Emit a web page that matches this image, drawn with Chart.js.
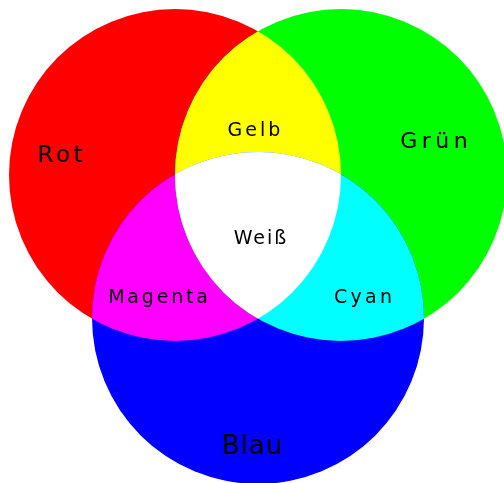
<!DOCTYPE html>
<html>
<head>
<meta charset="utf-8">
<script src="https://cdn.jsdelivr.net/npm/chart.js@4/dist/chart.umd.min.js"></script>
<style>
  html, body { margin: 0; padding: 0; background: #fff; }
  #wrap { width: 504px; height: 483px; }
</style>
</head>
<body>
<div id="wrap"><canvas id="venn" width="504" height="483"></canvas></div>
<script>
// Circles (data units = picture pixels, y downwards): Rot, Grün, Blau
const circleX = [175, 341, 258];
const circleY = [175, 175, 318];
const circleR = [166, 166, 166];
const circleColors = ["#ff0000", "#00ff00", "#0000ff"];

// Overlap regions: which circles meet, and the mixed colour
const regionSets = [[0, 1], [0, 2], [1, 2], [0, 1, 2]];
const regionColors = ["#ffff00", "#ff00ff", "#00ffff", "#ffffff"];

// Labels
const labelText = ["Rot", "Grün", "Blau", "Gelb", "Magenta", "Cyan", "Weiß"];
const labelX = [60, 434, 252, 254, 158, 363, 260];
const labelY = [162, 148, 454, 136, 303, 303, 244];
const labelSize = [23, 22, 26, 19, 19, 19, 19];
const labelSpacing = [3.5, 4.5, 1, 3, 2.8, 3.3, 2];

function circlePath(chart, i) {
  const { x, y } = chart.scales;
  const cx = x.getPixelForValue(circleX[i]);
  const cy = y.getPixelForValue(circleY[i]);
  const r = x.getPixelForValue(circleR[i]) - x.getPixelForValue(0);
  const p = new Path2D();
  p.arc(cx, cy, r, 0, Math.PI * 2);
  return p;
}

// each overlap dataset is one circle clipped by the other circle(s) of its set
const overlapClipPlugin = {
  id: "overlapClip",
  beforeDatasetDraw(chart, args) {
    const set = chart.data.datasets[args.index].clipCircles;
    chart.ctx.save();
    if (set) set.forEach((i) => chart.ctx.clip(circlePath(chart, i)));
  },
  afterDatasetDraw(chart) {
    chart.ctx.restore();
  },
};

const labelPlugin = {
  id: "vennLabels",
  afterDraw(chart) {
    const { ctx, scales } = chart;
    ctx.save();
    ctx.fillStyle = "#000";
    ctx.textAlign = "center";
    ctx.textBaseline = "alphabetic";
    labelText.forEach((t, i) => {
      ctx.font = `${labelSize[i]}px "DejaVu Sans"`;
      ctx.letterSpacing = `${labelSpacing[i]}px`;
      const px = scales.x.getPixelForValue(labelX[i]) + labelSpacing[i] / 2;
      const py = scales.y.getPixelForValue(labelY[i]);
      ctx.fillText(t, px, py);
    });
    ctx.restore();
  },
};

const bubble = (i) => ({ x: circleX[i], y: circleY[i], r: circleR[i] });

const datasets = [
  {
    data: circleX.map((_, i) => bubble(i)),
    backgroundColor: circleColors,
    borderWidth: 0,
    order: 10,
  },
];
regionSets.forEach((set, k) => {
  datasets.push({
    data: [bubble(set[0])],
    backgroundColor: regionColors[k],
    borderWidth: 0,
    order: 9 - k,
    clipCircles: set.slice(1),
  });
});

// x scale is 0..504 over 504px, so bubble r (pixels) equals data units
new Chart(document.getElementById("venn"), {
  type: "bubble",
  data: { datasets: datasets },
  options: {
    responsive: false,
    animation: false,
    events: [],
    layout: { padding: 0, autoPadding: false },
    plugins: { legend: { display: false }, tooltip: { enabled: false } },
    scales: {
      x: { type: "linear", min: 0, max: 504, display: false },
      y: { type: "linear", min: 0, max: 483, reverse: true, display: false },
    },
  },
  plugins: [overlapClipPlugin, labelPlugin],
});
</script>
</body>
</html>
